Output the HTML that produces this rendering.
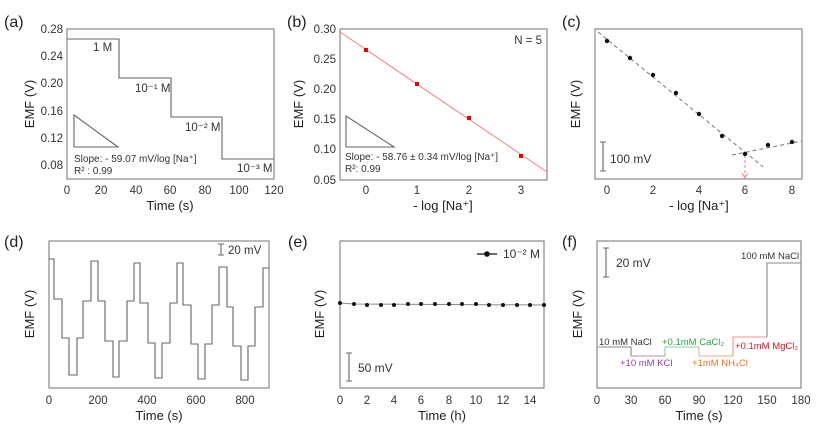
<!DOCTYPE html>
<html><head><meta charset="utf-8"><style>
html,body{margin:0;padding:0;background:#fff}
svg{display:block;font-family:"Liberation Sans",Arial,sans-serif}
.b{fill:none;stroke:#888;stroke-width:1.2}
.l{fill:none;stroke:#666;stroke-width:1.1}
.t{font-size:11.5px;fill:#333}
.a{font-size:13px;fill:#222}
.p{font-size:16px;fill:#222}
.s{font-size:10px;fill:#333}
</style></head><body>
<svg width="825" height="438" viewBox="0 0 825 438">
<!-- (a) -->
<text class="p" x="4" y="27">(a)</text>
<rect class="b" x="67" y="29" width="207" height="150"/>
<g class="t" text-anchor="end">
<text x="63" y="33">0.28</text><text x="63" y="60">0.24</text><text x="63" y="87">0.20</text><text x="63" y="115">0.16</text><text x="63" y="142">0.12</text><text x="63" y="169">0.08</text>
</g>
<g class="t" text-anchor="middle">
<text x="67" y="194">0</text><text x="101" y="194">20</text><text x="136" y="194">40</text><text x="170" y="194">60</text><text x="205" y="194">80</text><text x="239" y="194">100</text><text x="274" y="194">120</text>
</g>
<text class="a" x="170" y="210" text-anchor="middle">Time (s)</text>
<text class="a" transform="translate(34,104) rotate(-90)" text-anchor="middle">EMF (V)</text>
<polyline class="l" points="67,39 119,39 119,78 171,78 171,117 222,117 222,159 274,159"/>
<polygon class="l" points="74,115 74,147 118,147"/>
<text class="s" x="74" y="162">Slope: - 59.07 mV/log [Na⁺]</text>
<text class="s" x="74" y="174">R² : 0.99</text>
<text class="t" x="93" y="51">1 M</text>
<text class="t" x="135" y="92">10⁻¹ M</text>
<text class="t" x="185" y="131">10⁻² M</text>
<text class="t" x="237" y="172">10⁻³ M</text>
<!-- (b) -->
<text class="p" x="287" y="27">(b)</text>
<rect class="b" x="340" y="29" width="207" height="151"/>
<g class="t" text-anchor="end">
<text x="336" y="33">0.30</text><text x="336" y="63">0.25</text><text x="336" y="93">0.20</text><text x="336" y="123">0.15</text><text x="336" y="153">0.10</text><text x="336" y="184">0.05</text>
</g>
<g class="t" text-anchor="middle">
<text x="366" y="194">0</text><text x="417" y="194">1</text><text x="469" y="194">2</text><text x="521" y="194">3</text>
</g>
<text class="a" x="443" y="210" text-anchor="middle">- log [Na⁺]</text>
<text class="a" transform="translate(303,104) rotate(-90)" text-anchor="middle">EMF (V)</text>
<line x1="340" y1="32" x2="547" y2="172" stroke="#f08080" stroke-width="1"/>
<g fill="#e00"><rect x="364" y="48" width="4" height="4"/><rect x="415" y="82" width="4" height="4"/><rect x="467" y="116" width="4" height="4"/><rect x="519" y="154" width="4" height="4"/></g>
<text class="t" x="542" y="44" text-anchor="end">N = 5</text>
<polygon class="l" points="346,116 346,147 394,147"/>
<text class="s" x="345" y="160">Slope: - 58.76 ± 0.34 mV/log [Na⁺]</text>
<text class="s" x="345" y="172">R²: 0.99</text>
<!-- (c) -->
<text class="p" x="562" y="27">(c)</text>
<rect class="b" x="595" y="29" width="207" height="150"/>
<g class="t" text-anchor="middle">
<text x="607" y="194">0</text><text x="653" y="194">2</text><text x="699" y="194">4</text><text x="745" y="194">6</text><text x="792" y="194">8</text>
</g>
<text class="a" x="699" y="210" text-anchor="middle">- log [Na⁺]</text>
<text class="a" transform="translate(580,104) rotate(-90)" text-anchor="middle">EMF (V)</text>
<line x1="598" y1="32" x2="763" y2="167" stroke="#777" stroke-dasharray="4,3"/>
<line x1="732" y1="155" x2="802" y2="141" stroke="#777" stroke-dasharray="4,3"/>
<line x1="745" y1="155" x2="745" y2="176" stroke="#f08080" stroke-dasharray="3,2"/>
<polyline points="742,173 745,178 748,173" fill="none" stroke="#f08080"/>
<g fill="#111"><circle cx="607" cy="41" r="2.2"/><circle cx="630" cy="58" r="2.2"/><circle cx="653" cy="75" r="2.2"/><circle cx="676" cy="93" r="2.2"/><circle cx="699" cy="114" r="2.2"/><circle cx="722" cy="136" r="2.2"/><circle cx="745" cy="154" r="2.2"/><circle cx="768" cy="145" r="2.2"/><circle cx="792" cy="142" r="2.2"/></g>
<path class="l" d="M603,142V171M600,142H606M600,171H606"/>
<text class="t" x="610" y="163" style="font-size:12px">100 mV</text>
<!-- (d) -->
<text class="p" x="4" y="247">(d)</text>
<rect class="b" x="49" y="241" width="220" height="147"/>
<g class="t" text-anchor="middle">
<text x="49" y="404">0</text><text x="98" y="404">200</text><text x="147" y="404">400</text><text x="196" y="404">600</text><text x="245" y="404">800</text>
</g>
<text class="a" x="159" y="420" text-anchor="middle">Time (s)</text>
<text class="a" transform="translate(34,314) rotate(-90)" text-anchor="middle">EMF (V)</text>
<polyline class="l" points="49,259 54,259 54,299 62,299 62,338 69,338 69,375 77,375 77,338 83,338 83,301 91,301 91,261 98,261 98,301 105,301 105,341 113,341 113,377 119,377 119,341 127,341 127,301 134,301 134,263 140,263 140,303 148,303 148,343 155,343 155,378 162,378 162,343 170,343 170,303 177,303 177,263 183,263 183,305 191,305 191,344 198,344 198,379 205,379 205,344 212,344 212,305 219,305 219,267 227,267 227,307 233,307 233,346 241,346 241,380 248,380 248,346 255,346 255,307 263,307 263,268 269,268"/>
<path class="l" d="M221,244V255M218,244H224M218,255H224"/>
<text class="t" x="228" y="254">20 mV</text>
<!-- (e) -->
<text class="p" x="288" y="247">(e)</text>
<rect class="b" x="340" y="241" width="204" height="147"/>
<g class="t" text-anchor="middle">
<text x="340" y="404">0</text><text x="367" y="404">2</text><text x="394" y="404">4</text><text x="421" y="404">6</text><text x="449" y="404">8</text><text x="476" y="404">10</text><text x="503" y="404">12</text><text x="530" y="404">14</text>
</g>
<text class="a" x="442" y="420" text-anchor="middle">Time (h)</text>
<text class="a" transform="translate(324,314) rotate(-90)" text-anchor="middle">EMF (V)</text>
<polyline fill="none" stroke="#888" stroke-width="1" points="340,303 354,304 544,305"/>
<g fill="#111">
<circle cx="340" cy="303" r="2"/><circle cx="354" cy="304" r="2"/><circle cx="367" cy="305" r="2"/><circle cx="381" cy="305" r="2"/><circle cx="394" cy="305" r="2"/><circle cx="408" cy="304" r="2"/><circle cx="421" cy="304" r="2"/><circle cx="435" cy="304" r="2"/><circle cx="449" cy="304" r="2"/><circle cx="462" cy="304" r="2"/><circle cx="476" cy="304" r="2"/><circle cx="489" cy="305" r="2"/><circle cx="503" cy="305" r="2"/><circle cx="517" cy="305" r="2"/><circle cx="530" cy="305" r="2"/><circle cx="544" cy="305" r="2"/>
</g>
<line x1="477" y1="254" x2="497" y2="254" stroke="#111" stroke-width="1.2"/><circle cx="487" cy="254" r="2.8" fill="#111"/>
<text class="t" x="503" y="258" style="font-size:12px">10⁻² M</text>
<path class="l" d="M349,353V381M346,353H352M346,381H352"/>
<text class="t" x="358" y="372" style="font-size:12px">50 mV</text>
<!-- (f) -->
<text class="p" x="562" y="247">(f)</text>
<rect class="b" x="597" y="241" width="204" height="147"/>
<g class="t" text-anchor="middle">
<text x="597" y="404">0</text><text x="631" y="404">30</text><text x="665" y="404">60</text><text x="699" y="404">90</text><text x="733" y="404">120</text><text x="767" y="404">150</text><text x="801" y="404">180</text>
</g>
<text class="a" x="699" y="420" text-anchor="middle">Time (s)</text>
<text class="a" transform="translate(582,314) rotate(-90)" text-anchor="middle">EMF (V)</text>
<polyline fill="none" stroke="#888" stroke-width="1.1" points="597,347 631,347 631,356"/>
<polyline fill="none" stroke="#b98ad0" stroke-width="1.1" points="631,356 665,356"/>
<polyline fill="none" stroke="#7fd49a" stroke-width="1.1" points="665,356 665,347 699,347"/>
<polyline fill="none" stroke="#f0b080" stroke-width="1.1" points="699,347 699,356 733,356"/>
<polyline fill="none" stroke="#f59090" stroke-width="1.1" points="733,356 733,337 767,337"/>
<polyline fill="none" stroke="#888" stroke-width="1.1" points="767,337 767,263 801,263"/>
<path class="l" d="M606,248V277M603,248H609M603,277H609"/>
<text class="t" x="616" y="267" style="font-size:12px">20 mV</text>
<g style="font-size:9.5px">
<text x="599" y="345" fill="#333">10 mM NaCl</text>
<text x="620" y="366" fill="#8e3fae">+10 mM KCl</text>
<text x="662" y="345" fill="#2aa048">+0.1mM CaCl₂</text>
<text x="692" y="366" fill="#f07020">+1mM NH₄Cl</text>
<text x="735" y="349" fill="#e01020">+0.1mM MgCl₂</text>
<text x="741" y="259" fill="#333">100 mM NaCl</text>
</g>
</svg>
</body></html>
